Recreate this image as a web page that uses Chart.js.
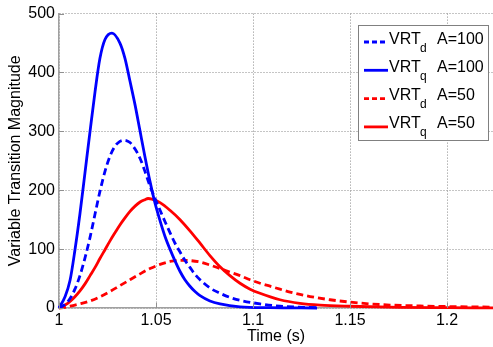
<!DOCTYPE html>
<html>
<head>
<meta charset="utf-8">
<script src="https://cdn.jsdelivr.net/npm/chart.js@4.4.0/dist/chart.umd.min.js"></script>
<style>
  body { margin: 0; background: #fff; }
  canvas { display: block; }
</style>
</head>
<body>
<canvas id="myChart" width="493" height="347"></canvas>
<script>
const xTicks = [1, 1.05, 1.1, 1.15, 1.2]
const yTicks = [0, 100, 200, 300, 400, 500]

// VRT_d, A=100 (blue dashed)
const timeDA100 = [1.0000, 1.0031, 1.0057, 1.0082, 1.0108, 1.0134, 1.0160, 1.0186, 1.0211, 1.0237, 1.0263, 1.0289, 1.0314, 1.0335, 1.0366, 1.0392, 1.0418, 1.0443, 1.0469, 1.0495, 1.0521, 1.0546, 1.0572, 1.0598, 1.0624, 1.0649, 1.0675, 1.0701, 1.0727, 1.0778, 1.0830, 1.0881, 1.0933, 1.1036, 1.1139, 1.1330]
const vrtDA100  = [0, 6, 16, 32, 55, 85, 120, 160, 198, 232, 258, 275, 283, 285, 281, 270, 254, 232, 207, 186, 166, 147, 128, 110, 95, 81, 69, 57, 48, 34, 25, 18, 13, 7, 3, 0.5]

// VRT_q, A=100 (blue solid)
const timeQA100 = [1.0000, 1.0031, 1.0057, 1.0082, 1.0108, 1.0134, 1.0160, 1.0186, 1.0211, 1.0237, 1.0273, 1.0314, 1.0340, 1.0366, 1.0392, 1.0418, 1.0443, 1.0469, 1.0495, 1.0521, 1.0546, 1.0572, 1.0598, 1.0624, 1.0649, 1.0675, 1.0701, 1.0727, 1.0778, 1.0830, 1.0933, 1.1088, 1.1330]
const vrtQA100  = [0, 19, 47, 98, 160, 230, 300, 368, 424, 456, 467, 450, 424, 385, 345, 300, 257, 215, 178, 148, 122, 100, 80, 62, 48, 37, 28, 21, 12, 7, 2, 0.5, 0]

// VRT_d, A=50 (red dashed)
const timeDA50 = [1.0000, 1.0031, 1.0057, 1.0108, 1.0160, 1.0211, 1.0263, 1.0314, 1.0366, 1.0418, 1.0469, 1.0521, 1.0572, 1.0624, 1.0675, 1.0727, 1.0778, 1.0830, 1.0881, 1.0933, 1.0985, 1.1036, 1.1088, 1.1139, 1.1191, 1.1242, 1.1294, 1.1397, 1.1500, 1.1603, 1.1706, 1.1861, 1.2000, 1.2237]
const vrtDA50  = [0, 1, 3, 7, 12, 19, 28, 38, 48, 58, 67, 74, 79, 81, 80.5, 78, 73, 67, 61, 55, 48, 42, 37, 32, 27, 23, 19.5, 14, 10, 7, 5, 3.5, 2.5, 1.5]

// VRT_q, A=50 (red solid)
const timeQA50 = [1.0000, 1.0031, 1.0057, 1.0082, 1.0108, 1.0134, 1.0160, 1.0186, 1.0211, 1.0237, 1.0263, 1.0289, 1.0314, 1.0340, 1.0366, 1.0392, 1.0418, 1.0443, 1.0459, 1.0479, 1.0521, 1.0572, 1.0624, 1.0675, 1.0727, 1.0778, 1.0830, 1.0881, 1.0933, 1.0985, 1.1036, 1.1139, 1.1242, 1.1345, 1.1500, 1.1758, 1.2000, 1.2237]
const vrtQA50  = [0, 5, 11, 19, 29, 41, 55, 69, 84, 99, 114, 128, 141, 153, 164, 173, 180, 184, 186, 185, 179, 166, 150, 131, 110, 89, 70, 55, 42, 32, 25, 14, 8, 5, 3, 1, 0.5, 0.3]

const legendSub = ["d", "q", "d", "q"]
const legendAmp = ["A=100", "A=100", "A=50", "A=50"]

const FONT = '"Liberation Sans", Arial, sans-serif'
Chart.defaults.font.family = FONT
Chart.defaults.font.size = 16
Chart.defaults.color = "#000"

function toPoints(xs, ys) {
  return xs.map((x, i) => ({ x: x, y: ys[i] }))
}

function makeSet(label, xs, ys, color, dashed) {
  return {
    label: label,
    data: toPoints(xs, ys),
    borderColor: color,
    borderWidth: 2.8,
    borderDash: dashed ? [7, 4] : [],
    pointRadius: 0,
    fill: false,
    cubicInterpolationMode: "monotone",
    clip: 4
  }
}

const datasets = [
  makeSet("VRTd A=100", timeDA100, vrtDA100, "#0000ff", true),
  makeSet("VRTq A=100", timeQA100, vrtQA100, "#0000ff", false),
  makeSet("VRTd A=50", timeDA50, vrtDA50, "#ff0000", true),
  makeSet("VRTq A=50", timeQA50, vrtQA50, "#ff0000", false)
]

// MATLAB style inward tick marks
const innerTicks = {
  id: "innerTicks",
  afterDraw(chart) {
    const ctx = chart.ctx
    const a = chart.chartArea
    const xs = chart.scales.x, ys = chart.scales.y
    ctx.save()
    ctx.strokeStyle = "#909090"
    ctx.lineWidth = 1
    ctx.beginPath()
    for (const v of xTicks) {
      const px = Math.round(xs.getPixelForValue(v)) + 0.5
      ctx.moveTo(px, a.bottom)
      ctx.lineTo(px, a.bottom - 5)
    }
    for (const v of yTicks) {
      const py = Math.round(ys.getPixelForValue(v)) + 0.5
      ctx.moveTo(a.left, py)
      ctx.lineTo(a.left + 5, py)
    }
    ctx.stroke()
    ctx.restore()
  }
}

const vrtLegend = {
  id: "vrtLegend",
  afterDraw(chart) {
    const ctx = chart.ctx
    ctx.save()
    ctx.fillStyle = "#fff"
    ctx.fillRect(358.5, 25.5, 130, 115)
    ctx.strokeStyle = "#808080"
    ctx.lineWidth = 1
    ctx.strokeRect(358.5, 25.5, 130, 115)
    chart.data.datasets.forEach((ds, i) => {
      const base = 43.5 + i * 28.3
      ctx.strokeStyle = ds.borderColor
      ctx.lineWidth = ds.borderWidth
      ctx.setLineDash(ds.borderDash.length ? [5, 3] : [])
      ctx.beginPath()
      ctx.moveTo(364, base - 1.5)
      ctx.lineTo(388, base - 1.5)
      ctx.stroke()
      ctx.setLineDash([])
      ctx.fillStyle = "#000"
      ctx.textBaseline = "alphabetic"
      ctx.font = "16px " + FONT
      ctx.fillText("VRT", 389, base)
      ctx.font = "12px " + FONT
      ctx.fillText(legendSub[i], 420, base + 8)
      ctx.font = "16px " + FONT
      ctx.fillText(legendAmp[i], 437, base)
    })
    ctx.restore()
  }
}

new Chart("myChart", {
  type: "line",
  data: { datasets: datasets },
  plugins: [innerTicks, vrtLegend],
  options: {
    responsive: false,
    animation: false,
    layout: { padding: { top: 12, right: 0, left: 0, bottom: 0 } },
    plugins: { legend: { display: false }, tooltip: { enabled: false } },
    scales: {
      x: {
        type: "linear",
        min: 1,
        max: 1.2237,
        afterBuildTicks: s => { s.ticks = xTicks.map(v => ({ value: v })) },
        afterFit: s => { s.height = 39 },
        ticks: { padding: 3, maxRotation: 0, callback: v => String(v) },
        grid: { color: "#8a8a8a", lineWidth: 1, drawTicks: false },
        border: { color: "#a0a0a0", width: 1.5, dash: [1, 2] },
        title: { display: true, text: "Time (s)", padding: { top: 0, bottom: 1 } }
      },
      y: {
        min: 0,
        max: 500,
        afterBuildTicks: s => { s.ticks = yTicks.map(v => ({ value: v })) },
        afterFit: s => { s.width = 59 },
        ticks: { padding: 4, callback: v => String(v) },
        grid: { color: "#8a8a8a", lineWidth: 1, drawTicks: false },
        border: { color: "#a0a0a0", width: 1.5, dash: [1, 2] },
        title: { display: true, text: "Variable Transition Magnitude", padding: { top: 6, bottom: 0 } }
      }
    }
  }
})
</script>
</body>
</html>
